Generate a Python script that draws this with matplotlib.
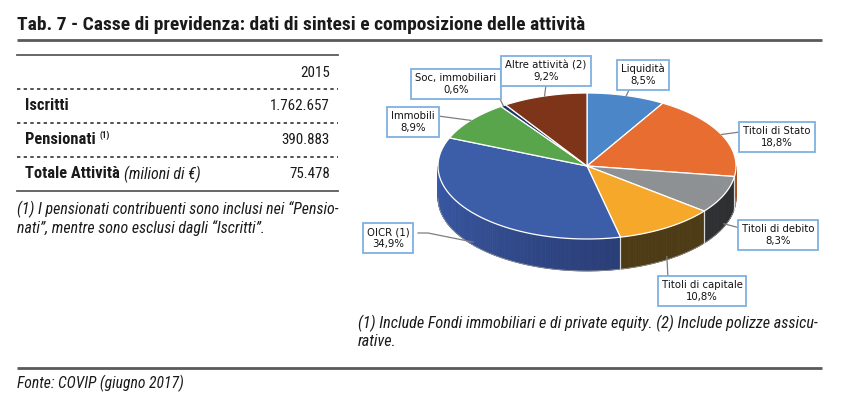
import numpy as np
import matplotlib
matplotlib.use('Agg')
import matplotlib.pyplot as plt
from matplotlib import font_manager as fm
from matplotlib.patches import Polygon
from matplotlib.colors import to_rgb

# ---------------- data ----------------
categories = ['Liquidità', 'Titoli di Stato', 'Titoli di debito', 'Titoli di capitale',
              'OICR (1)', 'Immobili', 'Soc. immobiliari', 'Altre attività (2)']
shares = [8.5, 18.8, 8.3, 10.8, 34.9, 8.9, 0.6, 9.2]

table_header = '2015'
table_rows = ['Iscritti', 'Pensionati', 'Totale Attività']
table_values = ['1.762.657', '390.883', '75.478']

title = 'Tab. 7 - Casse di previdenza: dati di sintesi e composizione delle attività'
table_note = ['(1) I pensionati contribuenti sono inclusi nei \u201cPensio-',
              'nati\u201d, mentre sono esclusi dagli \u201cIscritti\u201d.']
pie_note = ['(1) Include Fondi immobiliari e di private equity. (2) Include polizze assicu-',
            'rative.']
source = 'Fonte: COVIP (giugno 2017)'

# ---------------- style ----------------
top_colors = ['#4a86c8', '#e86d30', '#8e9194', '#f6a82b', '#3c5ea9', '#58a54c', '#1c3566', '#7e3418']
side_left = ['#2f5a8a', '#a84c1e', '#34373a', '#4f3d16', '#3a5aa6', '#3c7434', '#12244a', '#57230f']
side_right = ['#2f5a8a', '#a84c1e', '#2c2e30', '#4b3a15', '#1d2752', '#3c7434', '#12244a', '#57230f']
label_pos = [(643, 75), (777, 137), (778, 235), (702, 291), (388, 238), (413, 122), (456, 84), (546, 71)]
# where each leader line leaves its label box (layout only)
leader_from = [[(630, 88)], [(740, 132)], [(740, 228)], [(668, 278)],
               [(418, 233), (428, 233)], [(438, 116)], [(499, 97)], [(546, 85)]]

names = {f.name for f in fm.fontManager.ttflist}
cands = ['Liberation Sans Narrow', 'Roboto Condensed', 'Open Sans Condensed', 'Arial Narrow',
         'Nimbus Sans Narrow', 'Noto Sans Condensed']
cond = [f.name for f in fm.fontManager.ttflist
        if str(f.stretch) in ('condensed', 'semi-condensed', '75', '87.5', 'semi condensed')]
NARROW = None
for c in cands:
    if c in names:
        NARROW = c
        break
if NARROW is None and cond:
    NARROW = sorted(set(cond))[0]
FAM = NARROW if NARROW else 'Liberation Sans'


def nf(**kw):
    return dict(family=FAM, **kw)


fig = plt.figure(figsize=(8.5, 3.99), dpi=100)
ax = fig.add_axes([0, 0, 1, 1])
ax.set_xlim(0, 850)
ax.set_ylim(399, 0)
ax.axis('off')
R = fig.canvas.get_renderer()
inv = ax.transData.inverted()


def width(t):
    return t.get_window_extent(renderer=R).width


def fit(t, target):
    t.set_fontsize(t.get_fontsize() * target / width(t))
    return t.get_fontsize()


TXT = '#1a1a1a'
RULE = '#5a5a5a'

# title and rules
tt_ = ax.text(17, 25, title, va='center', ha='left', fontsize=12.5, weight='bold', color=TXT, **nf())
fit(tt_, 566)
ax.plot([17, 822], [40, 40], color=RULE, lw=2, solid_capstyle='butt')
ax.plot([17, 822], [368, 368], color=RULE, lw=2, solid_capstyle='butt')
st = ax.text(17, 383, source, va='center', ha='left', fontsize=11, style='italic', color=TXT, **nf())
fit(st, 166)

# ---------------- table ----------------
ax.plot([17, 338], [55, 55], color=RULE, lw=1.3)
for yy in [89, 123, 157]:
    ax.plot([17, 338], [yy, yy], color='#333333', lw=1.2, linestyle=(0, (2, 2)))
ax.plot([17, 338], [191, 191], color=RULE, lw=1.3)

probe = ax.text(0, 0, table_values[0], fontsize=12.5, **nf())
TFS = fit(probe, 60)
probe.remove()
probe = ax.text(0, 0, table_rows[2], fontsize=12.5, weight='bold', **nf())
BFS = fit(probe, 95)
probe.remove()

ax.text(330, 73, table_header, ha='right', va='center', fontsize=TFS, color=TXT, **nf())
row_y = [106, 140, 174]
for i, (lab, val) in enumerate(zip(table_rows, table_values)):
    t = ax.text(25, row_y[i], lab, ha='left', va='center', fontsize=BFS, weight='bold', color=TXT, **nf())
    ax.text(330, row_y[i], val, ha='right', va='center', fontsize=TFS, color=TXT, **nf())
    bb = t.get_window_extent(renderer=R)
    x_end = inv.transform((bb.x1, bb.y1))[0]
    if lab == 'Pensionati':
        ax.text(x_end + 4, row_y[i] - 5, '(1)', ha='left', va='center', fontsize=6.5, weight='bold',
                color=TXT, **nf())
    if lab == 'Totale Attività':
        it = ax.text(x_end + 4, row_y[i], '(milioni di \u20ac)', ha='left', va='center', fontsize=TFS,
                     style='italic', color=TXT, **nf())
        fit(it, 77)

n0 = ax.text(17, 209, table_note[0], ha='left', va='center', fontsize=11.5, style='italic', color=TXT, **nf())
NFS = fit(n0, 321)
ax.text(17, 228, table_note[1], ha='left', va='center', fontsize=NFS, style='italic', color=TXT, **nf())

p0 = ax.text(358, 323, pie_note[0], ha='left', va='center', fontsize=11.5, style='italic', color=TXT, **nf())
PFS = fit(p0, 462)
ax.text(358, 342, pie_note[1], ha='left', va='center', fontsize=PFS, style='italic', color=TXT, **nf())

# ---------------- 3D pie ----------------
cx, cy, rx, ry, depth = 587, 166, 149, 73, 32
vals = np.array(shares, dtype=float)
fracs = vals / vals.sum()
starts = 90 - 360 * np.concatenate([[0], np.cumsum(fracs)[:-1]])
ends = starts - 360 * fracs


def ell(theta, dy=0.0):
    t = np.radians(theta)
    return cx + rx * np.cos(t), cy - ry * np.sin(t) + dy


# side walls (front half: theta in [-180, 0])
for i in range(len(vals)):
    a0 = min(starts[i], 0.0)
    a1 = max(ends[i], -180.0)
    if a0 <= a1:
        continue
    n = max(int((a0 - a1) / 1.0), 2)
    edges = np.linspace(a0, a1, n + 1)
    cl = np.array(to_rgb(side_left[i]))
    cr = np.array(to_rgb(side_right[i]))
    for j in range(n):
        s, e = edges[j], edges[j + 1]
        tt = np.linspace(s, e, 4)
        xs, ys = ell(tt)
        xb, yb = ell(tt[::-1], depth)
        poly = np.column_stack([np.concatenate([xs, xb]), np.concatenate([ys, yb])])
        mid = 0.5 * (s + e)
        f = (mid + 180.0) / 180.0
        col = cl * (1 - f) + cr * f
        ax.add_patch(Polygon(poly, closed=True, fc=col, ec=col, lw=0.6, zorder=2))
    for a in [a0, a1]:
        if -180 < a < 0:
            x0, y0 = ell(a)
            ax.plot([x0, x0], [y0, y0 + depth], color='#d8d8d8', lw=0.8, zorder=2.5)

tt = np.linspace(-180, 0, 200)
xb, yb = ell(tt, depth)
ax.plot(xb, yb, color='#9a9a9a', lw=0.5, zorder=2.4)

# top faces
for i in range(len(vals)):
    tt = np.linspace(starts[i], ends[i], max(int(abs(starts[i] - ends[i])) + 2, 3))
    xs, ys = ell(tt)
    poly = np.column_stack([np.concatenate([[cx], xs]), np.concatenate([[cy], ys])])
    ax.add_patch(Polygon(poly, closed=True, fc=top_colors[i], ec='white', lw=0.9, zorder=3))

# labels with leader lines
for i in range(len(vals)):
    mid = 0.5 * (starts[i] + ends[i])
    ax_, ay_ = ell(mid)
    if np.sin(np.radians(mid)) < 0:
        ay_ += depth - 3
    lx, ly = label_pos[i]
    txt = f'{categories[i]}\n{vals[i]:.1f}%'.replace('.', ',')
    pts = leader_from[i] + [(ax_, ay_)]
    ax.plot([p[0] for p in pts], [p[1] for p in pts], color='#7f7f7f', lw=0.9, zorder=4)
    ax.text(lx, ly, txt, ha='center', va='center', fontsize=7.3, family='DejaVu Sans', color='#111111',
            linespacing=1.2, zorder=6,
            bbox=dict(boxstyle='square,pad=0.4', fc='white', ec='#7eb0e0', lw=1.3))

fig.savefig('out.png', dpi=100)
